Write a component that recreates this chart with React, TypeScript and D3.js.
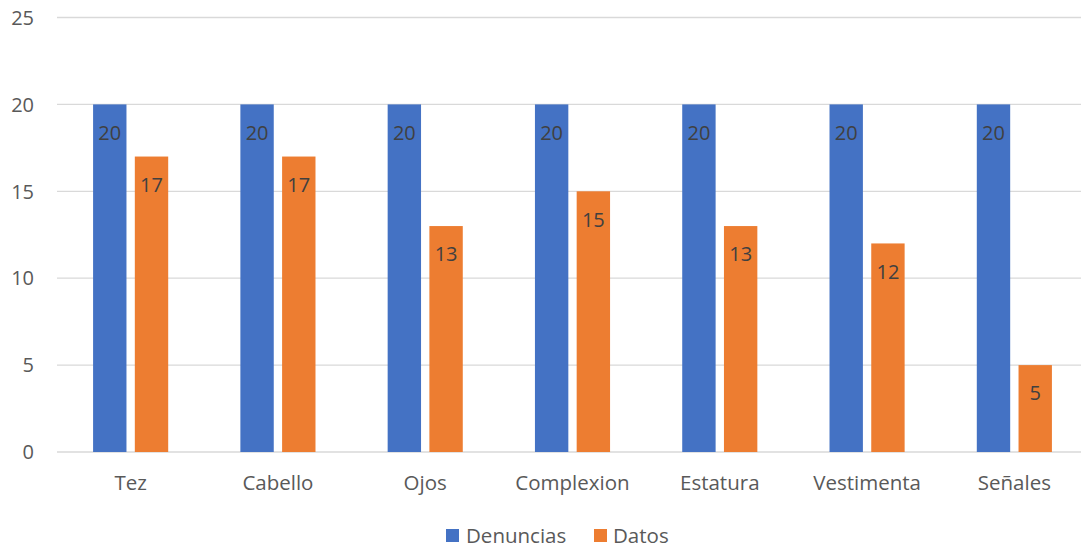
import React from "react";
import * as d3 from "d3";

const categories = ["Tez", "Cabello", "Ojos", "Complexion", "Estatura", "Vestimenta", "Señales"];
const denuncias = [20, 20, 20, 20, 20, 20, 20];
const datos = [17, 17, 13, 15, 13, 12, 5];
const seriesNames = ["Denuncias", "Datos"];
const seriesColors = ["#4472C4", "#ED7D31"];
const yTicks = [0, 5, 10, 15, 20, 25];

const W = 1081;
const H = 548;
const font = "'Open Sans', 'Noto Sans', sans-serif";

export default function App() {
  const x = d3.scaleBand<string>().domain(categories).range([57, 1088]).paddingInner(0.49).paddingOuter(0.245);
  const sub = d3.scaleBand<number>().domain([0, 1]).range([0, x.bandwidth()]).paddingInner(0.2);
  const y = d3.scaleLinear().domain([0, 25]).range([452, 17.5]);
  const series = [denuncias, datos];

  return (
    <svg width={W} height={H} style={{ position: "absolute", left: 0, top: 0, background: "#fff" }}>
      <rect width={W} height={H} fill="#fff" />
      {yTicks.map((t) => (
        <g key={t}>
          <line x1={57} x2={W} y1={y(t)} y2={y(t)} stroke="#D9D9D9" strokeWidth={1.3} />
          <text x={34} y={y(t)} dy="0.36em" textAnchor="end" fontFamily={font} fontSize={20} fill="#595959">
            {t}
          </text>
        </g>
      ))}
      {categories.map((c, i) => (
        <g key={c}>
          {series.map((s, k) => {
            const bx = (x(c) as number) + (sub(k) as number);
            const bw = sub.bandwidth();
            return (
              <g key={k}>
                <rect x={bx} y={y(s[i])} width={bw} height={y(0) - y(s[i])} fill={seriesColors[k]} />
                <text
                  x={bx + bw / 2}
                  y={y(s[i]) + 28}
                  dy="0.36em"
                  textAnchor="middle"
                  fontFamily={font}
                  fontSize={20}
                  fill="#404040"
                >
                  {s[i]}
                </text>
              </g>
            );
          })}
          <text
            x={(x(c) as number) + x.bandwidth() / 2}
            y={483}
            dy="0.36em"
            textAnchor="middle"
            fontFamily={font}
            fontSize={20.5}
            fill="#595959"
          >
            {c}
          </text>
        </g>
      ))}
      <g>
        <rect x={446} y={529} width={13} height={13} fill={seriesColors[0]} />
        <text x={466} y={536} dy="0.36em" fontFamily={font} fontSize={20.5} fill="#595959">
          {seriesNames[0]}
        </text>
        <rect x={594} y={529} width={13} height={13} fill={seriesColors[1]} />
        <text x={613} y={536} dy="0.36em" fontFamily={font} fontSize={20.5} fill="#595959">
          {seriesNames[1]}
        </text>
      </g>
    </svg>
  );
}
